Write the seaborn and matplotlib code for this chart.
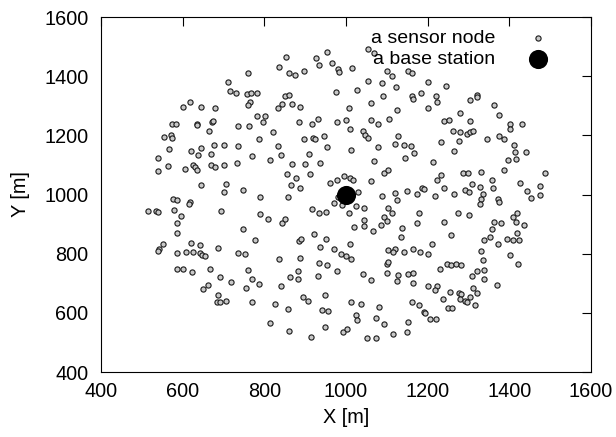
import matplotlib
matplotlib.use('Agg')
import pandas as pd
import seaborn as sns
import matplotlib.pyplot as plt

# sensor node positions, grouped by region
upper_left = [(760,1412),(711,1379),(715,1351),(730,1342),(758,1340),(767,1343),(782,1343),
              (766,1312),(759,1303),(617,1314),(601,1297),(644,1296),(680,1294),(781,1264),
              (801,1267),(796,1245),(822,1211),(575,1239),(583,1239),(635,1238),(635,1234),
              (671,1245),(674,1249),(664,1214),(735,1230),(762,1230),(786,1189),(555,1193),
              (571,1200),(575,1191),(566,1154),(621,1148),(646,1158),(676,1166),(701,1169),
              (735,1163)]
upper_mid = [(853,1466),(836,1431),(860,1410),(875,1404),(898,1419),(927,1463),(933,1439),
             (953,1482),(966,1446),(981,1424),(984,1415),(1015,1429),(1053,1491),(1068,1479),
             (1055,1384),(1088,1377),(1101,1417),(1112,1402),(1151,1417),(1161,1411),
             (1122,1365),(975,1345),(1028,1354),(850,1333),(860,1337),(844,1305),(834,1292),
             (867,1305),(887,1296),(1090,1334),(1061,1308),(1007,1294),(1125,1284),
             (1161,1334),(1165,1323),(885,1245),(917,1238),(931,1255),(977,1244),(1000,1251),
             (1010,1222),(1061,1251),(1079,1240),(1106,1254),(1042,1213),(1047,1202),
             (1055,1192),(920,1190),(923,1187),(896,1188),(946,1197),(834,1163),(954,1160),
             (1012,1150),(1078,1160),(1127,1197),(1120,1172),(1143,1169),(1160,1164)]
upper_right = [(1200,1381),(1245,1368),(1183,1342),(1220,1334),(1223,1312),(1200,1294),
               (1304,1320),(1322,1336),(1321,1331),(1362,1304),(1278,1276),(1375,1270),
               (1239,1249),(1253,1251),(1303,1250),(1402,1239),(1402,1223),(1432,1239),
               (1262,1216),(1280,1211),(1296,1204),(1303,1211),(1312,1216),(1345,1189),
               (1375,1197),(1386,1189),(1233,1178),(1277,1181),(1412,1167),(1414,1145),
               (1440,1145),(1265,1146)]
mid_left = [(540,1122),(564,1096),(539,1079),(605,1085),(626,1100),(631,1093),(634,1082),
            (669,1100),(680,1093),(701,1100),(732,1107),(770,1129),(813,1116),(637,1135),
            (669,1137),(646,1033),(707,1035),(701,1010),(747,1015),(790,990),(577,985),
            (586,981),(619,976),(616,968),(516,945),(535,945),(540,941),(578,949),(595,926),
            (585,905),(693,945),(789,934),(808,918),(747,885),(587,870),(778,847),(541,817),
            (540,808),(553,831),(585,802),(608,806),(625,807),(621,836),(642,829),(643,802),
            (648,797),(655,793),(687,820),(735,802),(753,798)]
mid_center = [(962,1038),(977,1049),(996,1063),(1009,1055),(1018,1049),(1030,1010),(981,990),
              (971,971),(989,965),(1007,939),(1024,961),(1045,955),(1149,1012),(1120,1005),
              (1126,982),(1089,995),(1061,1046),(1068,1113),(1092,1074),(1102,1083),
              (1145,1122),(1166,1141),(1104,954),(1112,936),(1092,923),(1100,910),(1086,898),
              (1137,886),(1134,858),(1065,878),(1045,915),(1044,892),(1019,889),(1011,834),
              (971,816),(988,799),(999,791),(936,822),(951,850),(922,867),(886,843),(891,849),
              (859,992),(887,1023),(865,1031),(877,1055),(855,1068),(911,1068),(899,1102),
              (868,1102),(936,1106),(842,1132),(909,1138),(917,951),(935,939),(950,942),
              (844,905),(850,918),(1104,811),(1120,816),(1115,804),(1143,804),(1163,815),
              (836,783),(887,786),(1012,783)]
mid_right = [(1397,1115),(1417,1119),(1213,1110),(1233,1066),(1223,1048),(1286,1074),
             (1298,1074),(1331,1076),(1386,1083),(1488,1072),(1425,1040),(1358,1049),
             (1308,1035),(1329,1027),(1360,1021),(1474,1030),(1444,1013),(1452,989),
             (1476,997),(1187,1021),(1190,1017),(1174,1001),(1217,996),(1241,1021),
             (1264,1001),(1292,1016),(1300,1007),(1335,1001),(1331,985),(1329,969),
             (1372,985),(1375,975),(1178,938),(1274,939),(1300,931),(1239,906),(1363,907),
             (1358,885),(1380,903),(1409,923),(1419,938),(1416,906),(1437,898),(1419,869),
             (1394,850),(1410,845),(1423,847),(1353,856),(1337,845),(1372,832),(1257,864),
             (1210,834),(1182,806),(1202,800),(1331,810),(1401,797),(1335,778),(1174,903)]
lower_left = [(587,748),(601,748),(624,739),(668,748),(691,722),(719,704),(662,693),(651,680),
              (686,661),(684,635),(692,635),(705,639),(761,745),(769,716),(787,697),(756,683),
              (769,638),(826,630),(814,567)]
lower_mid = [(934,767),(953,761),(978,741),(882,741),(863,722),(883,714),(932,724),(840,692),
             (1041,731),(1061,711),(1100,764),(1104,772),(1100,736),(1128,727),(1124,708),
             (1151,731),(1164,735),(1165,700),(895,653),(906,641),(949,660),(857,612),
             (942,610),(957,607),(1012,635),(1036,629),(1081,621),(1161,635),(1024,593),
             (1028,577),(1073,582),(1093,562),(1151,569),(860,537),(914,519),(949,551),
             (992,534),(1002,547),(1052,514),(1074,515),(1116,530),(1149,534)]
lower_right = [(1247,764),(1257,761),(1269,764),(1282,763),(1420,764),(1229,747),(1322,742),
               (1339,744),(1308,725),(1339,716),(1370,694),(1200,692),(1224,692),(1217,677),
               (1255,669),(1276,666),(1282,664),(1312,683),(1321,666),(1304,655),(1280,646),
               (1292,640),(1297,635),(1315,625),(1237,646),(1179,625),(1192,602),(1193,600),
               (1250,616),(1259,616),(1206,579),(1221,579)]

base_x = [1000]
base_y = [1000]

ticks = [400, 600, 800, 1000, 1200, 1400, 1600]

nodes = pd.DataFrame(upper_left + upper_mid + upper_right + mid_left + mid_center +
                     mid_right + lower_left + lower_mid + lower_right, columns=['x', 'y'])

sns.set_style('white')
plt.rcParams['font.family'] = ['Liberation Sans', 'DejaVu Sans']
plt.rcParams['text.color'] = 'black'
plt.rcParams['axes.labelcolor'] = 'black'

fig = plt.figure(figsize=(6.16, 4.37), dpi=100)
ax = fig.add_axes([101/616, 1 - 372/437, 490/616, 355/437])

sns.scatterplot(data=nodes, x='x', y='y', ax=ax, s=14, color='#c8c8c8',
                edgecolor='#1a1a1a', linewidth=0.8, label='a sensor node')
sns.scatterplot(x=base_x, y=base_y, ax=ax, s=190, color='black',
                edgecolor='black', linewidth=0, label='a base station')

ax.set_xlim(400, 1600)
ax.set_ylim(400, 1600)
ax.set_xticks(ticks)
ax.set_yticks(ticks)
ax.tick_params(direction='in', length=6.5, width=0.8, top=True, right=True,
               labelsize=14.3, colors='black')
ax.tick_params(axis='x', pad=7)
ax.tick_params(axis='y', pad=9)
for sp in ax.spines.values():
    sp.set_color('black')
    sp.set_linewidth(0.8)
ax.set_xlabel('X [m]', fontsize=14.3, labelpad=5)
ax.set_ylabel('Y [m]', fontsize=14.3, labelpad=10)

ax.legend(loc='upper right', bbox_to_anchor=(0.947, 0.987), borderaxespad=0,
          frameon=False, markerfirst=False, handletextpad=1.18, labelspacing=0.18,
          fontsize=14, borderpad=0.4)

fig.savefig('out.png', dpi=100)
